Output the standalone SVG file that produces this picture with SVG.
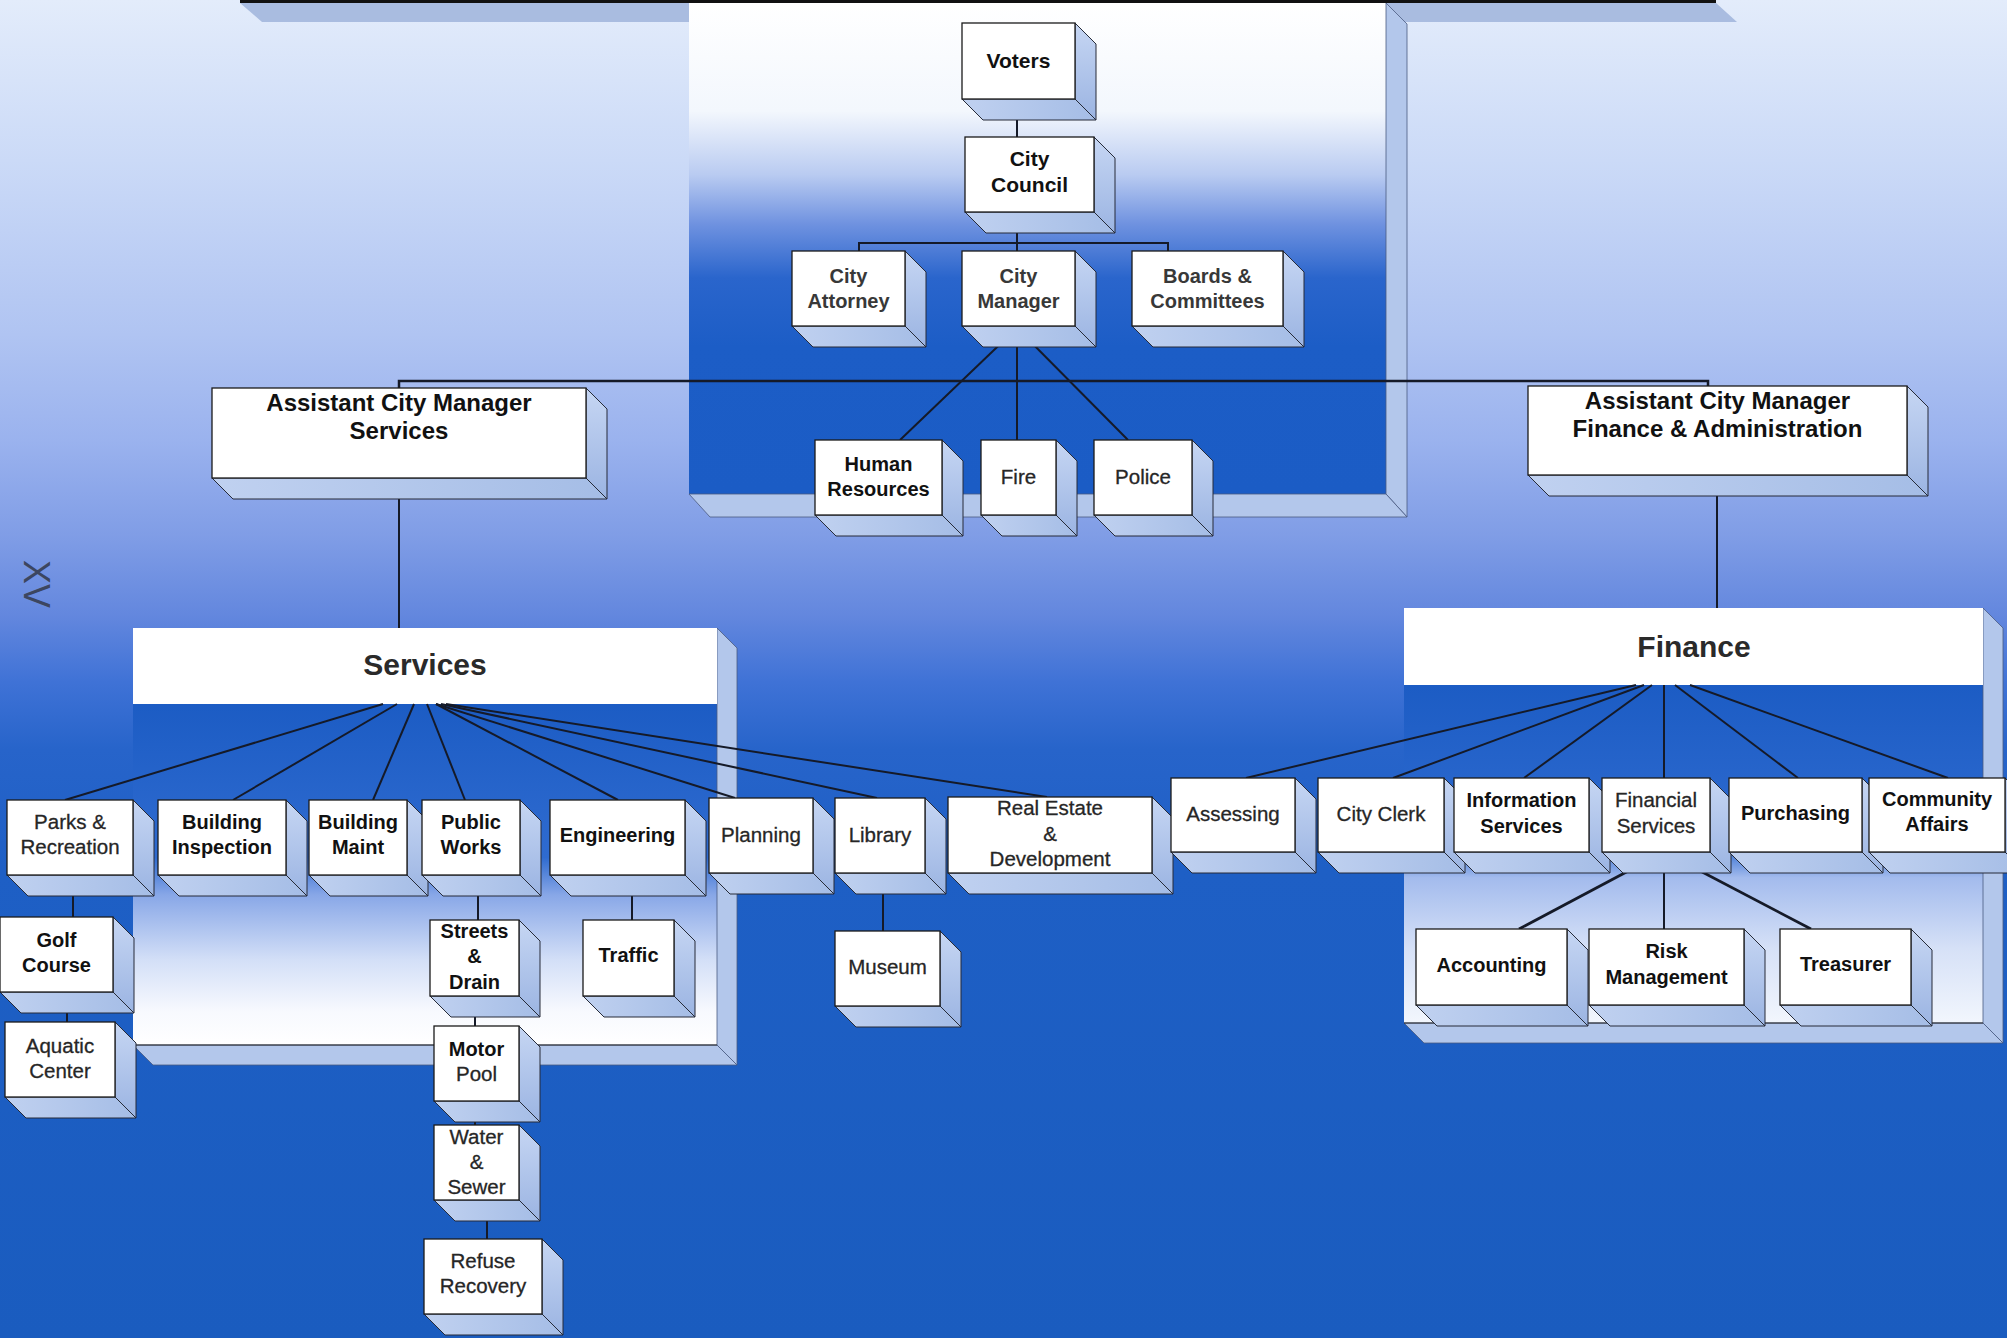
<svg xmlns="http://www.w3.org/2000/svg" width="2007" height="1338" viewBox="0 0 2007 1338">
<defs>
<linearGradient id="gBg" x1="0" y1="0" x2="0" y2="1">
<stop offset="0" stop-color="#e3ecfb"/>
<stop offset="0.12" stop-color="#cbdaf7"/>
<stop offset="0.25" stop-color="#b0c4f2"/>
<stop offset="0.33" stop-color="#9ab2ee"/>
<stop offset="0.40" stop-color="#809de6"/>
<stop offset="0.46" stop-color="#6387de"/>
<stop offset="0.51" stop-color="#3f72d6"/>
<stop offset="0.56" stop-color="#2764ca"/>
<stop offset="0.65" stop-color="#1e5fc5"/>
<stop offset="1" stop-color="#1a5cbf"/>
</linearGradient>
<linearGradient id="gC" x1="0" y1="0" x2="0" y2="1">
<stop offset="0" stop-color="#ffffff"/>
<stop offset="0.22" stop-color="#f3f7fd"/>
<stop offset="0.35" stop-color="#b9cbf1"/>
<stop offset="0.45" stop-color="#6f92e0"/>
<stop offset="0.56" stop-color="#2a65cc"/>
<stop offset="0.7" stop-color="#1c5dc6"/>
<stop offset="1" stop-color="#1b5cc5"/>
</linearGradient>
<linearGradient id="gS" x1="0" y1="0" x2="0" y2="1">
<stop offset="0" stop-color="#1c5cc4"/>
<stop offset="0.45" stop-color="#2f6bd0"/>
<stop offset="0.56" stop-color="#88a7e7"/>
<stop offset="0.75" stop-color="#d3dff7"/>
<stop offset="0.9" stop-color="#f7f9fe"/>
<stop offset="1" stop-color="#ffffff"/>
</linearGradient>
<linearGradient id="gF" x1="0" y1="0" x2="0" y2="1">
<stop offset="0" stop-color="#1c5cc4"/>
<stop offset="0.48" stop-color="#2f6bd0"/>
<stop offset="0.57" stop-color="#a3bbed"/>
<stop offset="0.78" stop-color="#d6e1f7"/>
<stop offset="1" stop-color="#f2f6fd"/>
</linearGradient>
<linearGradient id="gR" x1="0" y1="0" x2="0" y2="1">
<stop offset="0" stop-color="#c6d6f3"/>
<stop offset="1" stop-color="#9bb4e2"/>
</linearGradient>
<linearGradient id="gB" x1="0" y1="0" x2="1" y2="0">
<stop offset="0" stop-color="#c0d1f0"/>
<stop offset="1" stop-color="#a5bde6"/>
</linearGradient>
</defs>
<style>
.ff{fill:#ffffff;stroke:#1b1b1b;stroke-width:1.3}
.rf{fill:url(#gR);stroke:#262b38;stroke-width:1}
.bf{fill:url(#gB);stroke:#262b38;stroke-width:1}
.ps{fill:#b3c7eb;stroke:#4a5a80;stroke-width:0.8}
.cn path{stroke:#151a28;stroke-width:2;fill:none}
.cn path.th{stroke-width:2.8}
text{font-family:"Liberation Sans",Arial,Helvetica,sans-serif;text-anchor:middle}
.b{font-weight:bold;font-size:20px;fill:#111111}
.bg{font-weight:bold;font-size:20px;fill:#383838}
.r{font-size:20.5px;fill:#262626;stroke:#262626;stroke-width:0.3}
.lg{font-weight:bold;font-size:24px;fill:#111111}
.hd{font-weight:bold;font-size:30px;fill:#2a2a2a}
</style>

<rect x="0" y="0" width="2007" height="1338" fill="url(#gBg)"/>

<g id="top-frame">
<polygon points="240,3 1716,3 1737,22 262,22" fill="#a9bce0"/>
<line x1="240" y1="1.5" x2="1716" y2="1.5" stroke="#111" stroke-width="3"/>
</g>

<g id="council-panel">
<rect x="689" y="3" width="697" height="491" fill="url(#gC)"/>
<polygon class="ps" points="1386,3 1407,24 1407,517 1386,494"/>
<polygon class="ps" points="689,494 1386,494 1407,517 710,517"/>
</g>

<text x="36" y="584" transform="rotate(90 36 584)" dominant-baseline="central" style="font-size:36px;fill:#3c4660">XV</text>

<g id="services">
<rect x="133" y="704" width="584" height="341" fill="url(#gS)"/>
<polygon class="ps" points="717,628 737,648 737,1065 717,1045"/>
<polygon class="ps" points="133,1045 717,1045 737,1065 153,1065"/>
<line x1="133" y1="1045" x2="717" y2="1045" stroke="#222" stroke-width="1.2"/>
<rect x="133" y="628" width="584" height="76" fill="#fff"/>
<text class="hd" x="425" y="675">Services</text>
</g>

<g id="finance">
<rect x="1404" y="685" width="579" height="338" fill="url(#gF)"/>
<polygon class="ps" points="1983,608 2003,628 2003,1043 1983,1023"/>
<polygon class="ps" points="1404,1023 1983,1023 2003,1043 1424,1043"/>
<line x1="1404" y1="1023" x2="1983" y2="1023" stroke="#222" stroke-width="1.2"/>
<rect x="1404" y="608" width="579" height="77" fill="#fff"/>
<text class="hd" x="1694" y="657">Finance</text>
</g>

<g id="connectors" class="cn">
<path d="M1017 99V137"/>
<path d="M1017 212V251"/>
<path d="M859 251V243H1168V251"/>
<path d="M1017 328L900 440"/>
<path d="M1017 328V440"/>
<path d="M1017 328L1128 440"/>
<path d="M399 388V381H1708V386" style="stroke-width:2.5"/>
<path d="M399 478V628"/>
<path d="M1717 475V608"/>
<path d="M383 704L65 800"/>
<path d="M397 704L233 800"/>
<path d="M414 704L373 800"/>
<path d="M427 704L465 800"/>
<path d="M436 704L618 800"/>
<path d="M436 704L735 798"/>
<path d="M441 704L877 798"/>
<path d="M446 704L1047 797"/>
<path d="M73 875V917"/>
<path d="M67 992V1022"/>
<path d="M478 875V920"/>
<path d="M632 875V920"/>
<path d="M475 996V1026"/>
<path d="M475 1101V1125"/>
<path d="M487 1200V1239"/>
<path d="M883 873V931"/>
<path d="M1636 685L1246 778"/>
<path d="M1644 685L1393 778"/>
<path d="M1652 685L1524 778"/>
<path d="M1664 685V778"/>
<path d="M1675 685L1798 778"/>
<path d="M1690 685L1948 778"/>
<path class="th" d="M1664 852L1519 929"/>
<path d="M1664 852V929"/>
<path class="th" d="M1664 852L1811 929"/>
</g>

<g id="voters">
<polygon class="rf" points="1075,23 1096,44 1096,120 1075,99"/>
<polygon class="bf" points="962,99 1075,99 1096,120 983,120"/>
<rect class="ff" x="962" y="23" width="113" height="76"/>
<text class="b" x="1018.5" y="68" style="font-size:21px">Voters</text>
</g>

<g id="city-council">
<polygon class="rf" points="1094,137 1115,158 1115,233 1094,212"/>
<polygon class="bf" points="965,212 1094,212 1115,233 986,233"/>
<rect class="ff" x="965" y="137" width="129" height="75"/>
<text class="b" x="1029.5" y="166" style="font-size:21px">City</text>
<text class="b" x="1029.5" y="192" style="font-size:21px">Council</text>
</g>

<g id="city-attorney">
<polygon class="rf" points="905,251 926,272 926,347 905,326"/>
<polygon class="bf" points="792,326 905,326 926,347 813,347"/>
<rect class="ff" x="792" y="251" width="113" height="75"/>
<text class="bg" x="848.5" y="283">City</text>
<text class="bg" x="848.5" y="308">Attorney</text>
</g>

<g id="city-manager">
<polygon class="rf" points="1075,251 1096,272 1096,347 1075,326"/>
<polygon class="bf" points="962,326 1075,326 1096,347 983,347"/>
<rect class="ff" x="962" y="251" width="113" height="75"/>
<text class="bg" x="1018.5" y="283">City</text>
<text class="bg" x="1018.5" y="308">Manager</text>
</g>

<g id="boards-committees">
<polygon class="rf" points="1283,251 1304,272 1304,347 1283,326"/>
<polygon class="bf" points="1132,326 1283,326 1304,347 1153,347"/>
<rect class="ff" x="1132" y="251" width="151" height="75"/>
<text class="bg" x="1207.5" y="283">Boards &amp;</text>
<text class="bg" x="1207.5" y="308">Committees</text>
</g>

<g id="human-resources">
<polygon class="rf" points="942,440 963,461 963,536 942,515"/>
<polygon class="bf" points="815,515 942,515 963,536 836,536"/>
<rect class="ff" x="815" y="440" width="127" height="75"/>
<text class="b" x="878.5" y="471">Human</text>
<text class="b" x="878.5" y="496">Resources</text>
</g>

<g id="fire">
<polygon class="rf" points="1056,440 1077,461 1077,536 1056,515"/>
<polygon class="bf" points="981,515 1056,515 1077,536 1002,536"/>
<rect class="ff" x="981" y="440" width="75" height="75"/>
<text class="r" x="1018.5" y="484">Fire</text>
</g>

<g id="police">
<polygon class="rf" points="1192,440 1213,461 1213,536 1192,515"/>
<polygon class="bf" points="1094,515 1192,515 1213,536 1115,536"/>
<rect class="ff" x="1094" y="440" width="98" height="75"/>
<text class="r" x="1143" y="484">Police</text>
</g>

<g id="acm-services">
<polygon class="rf" points="586,388 607,409 607,499 586,478"/>
<polygon class="bf" points="212,478 586,478 607,499 233,499"/>
<rect class="ff" x="212" y="388" width="374" height="90"/>
<text class="lg" x="399" y="411">Assistant City Manager</text>
<text class="lg" x="399" y="439">Services</text>
</g>

<g id="acm-finance">
<polygon class="rf" points="1907,386 1928,407 1928,496 1907,475"/>
<polygon class="bf" points="1528,475 1907,475 1928,496 1549,496"/>
<rect class="ff" x="1528" y="386" width="379" height="89"/>
<text class="lg" x="1717.5" y="409">Assistant City Manager</text>
<text class="lg" x="1717.5" y="437">Finance &amp; Administration</text>
</g>

<g id="parks-recreation">
<polygon class="rf" points="133,800 154,821 154,896 133,875"/>
<polygon class="bf" points="7,875 133,875 154,896 28,896"/>
<rect class="ff" x="7" y="800" width="126" height="75"/>
<text class="r" x="70" y="829">Parks &amp;</text>
<text class="r" x="70" y="854">Recreation</text>
</g>

<g id="building-inspection">
<polygon class="rf" points="286,800 307,821 307,896 286,875"/>
<polygon class="bf" points="158,875 286,875 307,896 179,896"/>
<rect class="ff" x="158" y="800" width="128" height="75"/>
<text class="b" x="222" y="829">Building</text>
<text class="b" x="222" y="854">Inspection</text>
</g>

<g id="building-maint">
<polygon class="rf" points="407,800 428,821 428,896 407,875"/>
<polygon class="bf" points="309,875 407,875 428,896 330,896"/>
<rect class="ff" x="309" y="800" width="98" height="75"/>
<text class="b" x="358" y="829">Building</text>
<text class="b" x="358" y="854">Maint</text>
</g>

<g id="public-works">
<polygon class="rf" points="520,800 541,821 541,896 520,875"/>
<polygon class="bf" points="422,875 520,875 541,896 443,896"/>
<rect class="ff" x="422" y="800" width="98" height="75"/>
<text class="b" x="471" y="829">Public</text>
<text class="b" x="471" y="854">Works</text>
</g>

<g id="engineering">
<polygon class="rf" points="685,800 706,821 706,896 685,875"/>
<polygon class="bf" points="550,875 685,875 706,896 571,896"/>
<rect class="ff" x="550" y="800" width="135" height="75"/>
<text class="b" x="617.5" y="842">Engineering</text>
</g>

<g id="planning">
<polygon class="rf" points="813,798 834,819 834,894 813,873"/>
<polygon class="bf" points="709,873 813,873 834,894 730,894"/>
<rect class="ff" x="709" y="798" width="104" height="75"/>
<text class="r" x="761" y="842">Planning</text>
</g>

<g id="library">
<polygon class="rf" points="925,798 946,819 946,894 925,873"/>
<polygon class="bf" points="835,873 925,873 946,894 856,894"/>
<rect class="ff" x="835" y="798" width="90" height="75"/>
<text class="r" x="880" y="842">Library</text>
</g>

<g id="real-estate">
<polygon class="rf" points="1152,797 1173,818 1173,894 1152,873"/>
<polygon class="bf" points="948,873 1152,873 1173,894 969,894"/>
<rect class="ff" x="948" y="797" width="204" height="76"/>
<text class="r" x="1050" y="815">Real Estate</text>
<text class="r" x="1050" y="841">&amp;</text>
<text class="r" x="1050" y="866">Development</text>
</g>

<g id="golf-course">
<polygon class="rf" points="113,917 134,938 134,1013 113,992"/>
<polygon class="bf" points="0,992 113,992 134,1013 21,1013"/>
<rect class="ff" x="0" y="917" width="113" height="75"/>
<text class="b" x="56.5" y="947">Golf</text>
<text class="b" x="56.5" y="972">Course</text>
</g>

<g id="aquatic-center">
<polygon class="rf" points="115,1022 136,1043 136,1118 115,1097"/>
<polygon class="bf" points="5,1097 115,1097 136,1118 26,1118"/>
<rect class="ff" x="5" y="1022" width="110" height="75"/>
<text class="r" x="60" y="1053">Aquatic</text>
<text class="r" x="60" y="1078">Center</text>
</g>

<g id="streets-drain">
<polygon class="rf" points="519,920 540,941 540,1017 519,996"/>
<polygon class="bf" points="430,996 519,996 540,1017 451,1017"/>
<rect class="ff" x="430" y="920" width="89" height="76"/>
<text class="b" x="474.5" y="938">Streets</text>
<text class="b" x="474.5" y="963">&amp;</text>
<text class="b" x="474.5" y="989">Drain</text>
</g>

<g id="traffic">
<polygon class="rf" points="674,920 695,941 695,1017 674,996"/>
<polygon class="bf" points="583,996 674,996 695,1017 604,1017"/>
<rect class="ff" x="583" y="920" width="91" height="76"/>
<text class="b" x="628.5" y="962">Traffic</text>
</g>

<g id="motor-pool">
<polygon class="rf" points="519,1026 540,1047 540,1122 519,1101"/>
<polygon class="bf" points="434,1101 519,1101 540,1122 455,1122"/>
<rect class="ff" x="434" y="1026" width="85" height="75"/>
<text class="b" x="476.5" y="1056">Motor</text>
<text class="r" x="476.5" y="1081">Pool</text>
</g>

<g id="water-sewer">
<polygon class="rf" points="519,1125 540,1146 540,1221 519,1200"/>
<polygon class="bf" points="434,1200 519,1200 540,1221 455,1221"/>
<rect class="ff" x="434" y="1125" width="85" height="75"/>
<text class="r" x="476.5" y="1144">Water</text>
<text class="r" x="476.5" y="1169">&amp;</text>
<text class="r" x="476.5" y="1194">Sewer</text>
</g>

<g id="refuse-recovery">
<polygon class="rf" points="542,1239 563,1260 563,1335 542,1314"/>
<polygon class="bf" points="424,1314 542,1314 563,1335 445,1335"/>
<rect class="ff" x="424" y="1239" width="118" height="75"/>
<text class="r" x="483" y="1268">Refuse</text>
<text class="r" x="483" y="1293">Recovery</text>
</g>

<g id="museum">
<polygon class="rf" points="940,931 961,952 961,1027 940,1006"/>
<polygon class="bf" points="835,1006 940,1006 961,1027 856,1027"/>
<rect class="ff" x="835" y="931" width="105" height="75"/>
<text class="r" x="887.5" y="974">Museum</text>
</g>

<g id="assessing">
<polygon class="rf" points="1295,778 1316,799 1316,873 1295,852"/>
<polygon class="bf" points="1171,852 1295,852 1316,873 1192,873"/>
<rect class="ff" x="1171" y="778" width="124" height="74"/>
<text class="r" x="1233" y="821">Assessing</text>
</g>

<g id="city-clerk">
<polygon class="rf" points="1444,778 1465,799 1465,873 1444,852"/>
<polygon class="bf" points="1318,852 1444,852 1465,873 1339,873"/>
<rect class="ff" x="1318" y="778" width="126" height="74"/>
<text class="r" x="1381" y="821">City Clerk</text>
</g>

<g id="information-services">
<polygon class="rf" points="1589,778 1610,799 1610,873 1589,852"/>
<polygon class="bf" points="1454,852 1589,852 1610,873 1475,873"/>
<rect class="ff" x="1454" y="778" width="135" height="74"/>
<text class="b" x="1521.5" y="807">Information</text>
<text class="b" x="1521.5" y="833">Services</text>
</g>

<g id="financial-services">
<polygon class="rf" points="1710,778 1731,799 1731,873 1710,852"/>
<polygon class="bf" points="1602,852 1710,852 1731,873 1623,873"/>
<rect class="ff" x="1602" y="778" width="108" height="74"/>
<text class="r" x="1656" y="807">Financial</text>
<text class="r" x="1656" y="833">Services</text>
</g>

<g id="purchasing">
<polygon class="rf" points="1862,778 1883,799 1883,873 1862,852"/>
<polygon class="bf" points="1729,852 1862,852 1883,873 1750,873"/>
<rect class="ff" x="1729" y="778" width="133" height="74"/>
<text class="b" x="1795.5" y="820">Purchasing</text>
</g>

<g id="community-affairs">
<polygon class="rf" points="2005,778 2026,799 2026,873 2005,852"/>
<polygon class="bf" points="1869,852 2005,852 2026,873 1890,873"/>
<rect class="ff" x="1869" y="778" width="136" height="74"/>
<text class="b" x="1937" y="806">Community</text>
<text class="b" x="1937" y="831">Affairs</text>
</g>

<g id="accounting">
<polygon class="rf" points="1567,929 1588,950 1588,1026 1567,1005"/>
<polygon class="bf" points="1416,1005 1567,1005 1588,1026 1437,1026"/>
<rect class="ff" x="1416" y="929" width="151" height="76"/>
<text class="b" x="1491.5" y="972">Accounting</text>
</g>

<g id="risk-management">
<polygon class="rf" points="1744,929 1765,950 1765,1026 1744,1005"/>
<polygon class="bf" points="1589,1005 1744,1005 1765,1026 1610,1026"/>
<rect class="ff" x="1589" y="929" width="155" height="76"/>
<text class="b" x="1666.5" y="958">Risk</text>
<text class="b" x="1666.5" y="984">Management</text>
</g>

<g id="treasurer">
<polygon class="rf" points="1911,929 1932,950 1932,1026 1911,1005"/>
<polygon class="bf" points="1780,1005 1911,1005 1932,1026 1801,1026"/>
<rect class="ff" x="1780" y="929" width="131" height="76"/>
<text class="b" x="1845.5" y="971">Treasurer</text>
</g>
</svg>
